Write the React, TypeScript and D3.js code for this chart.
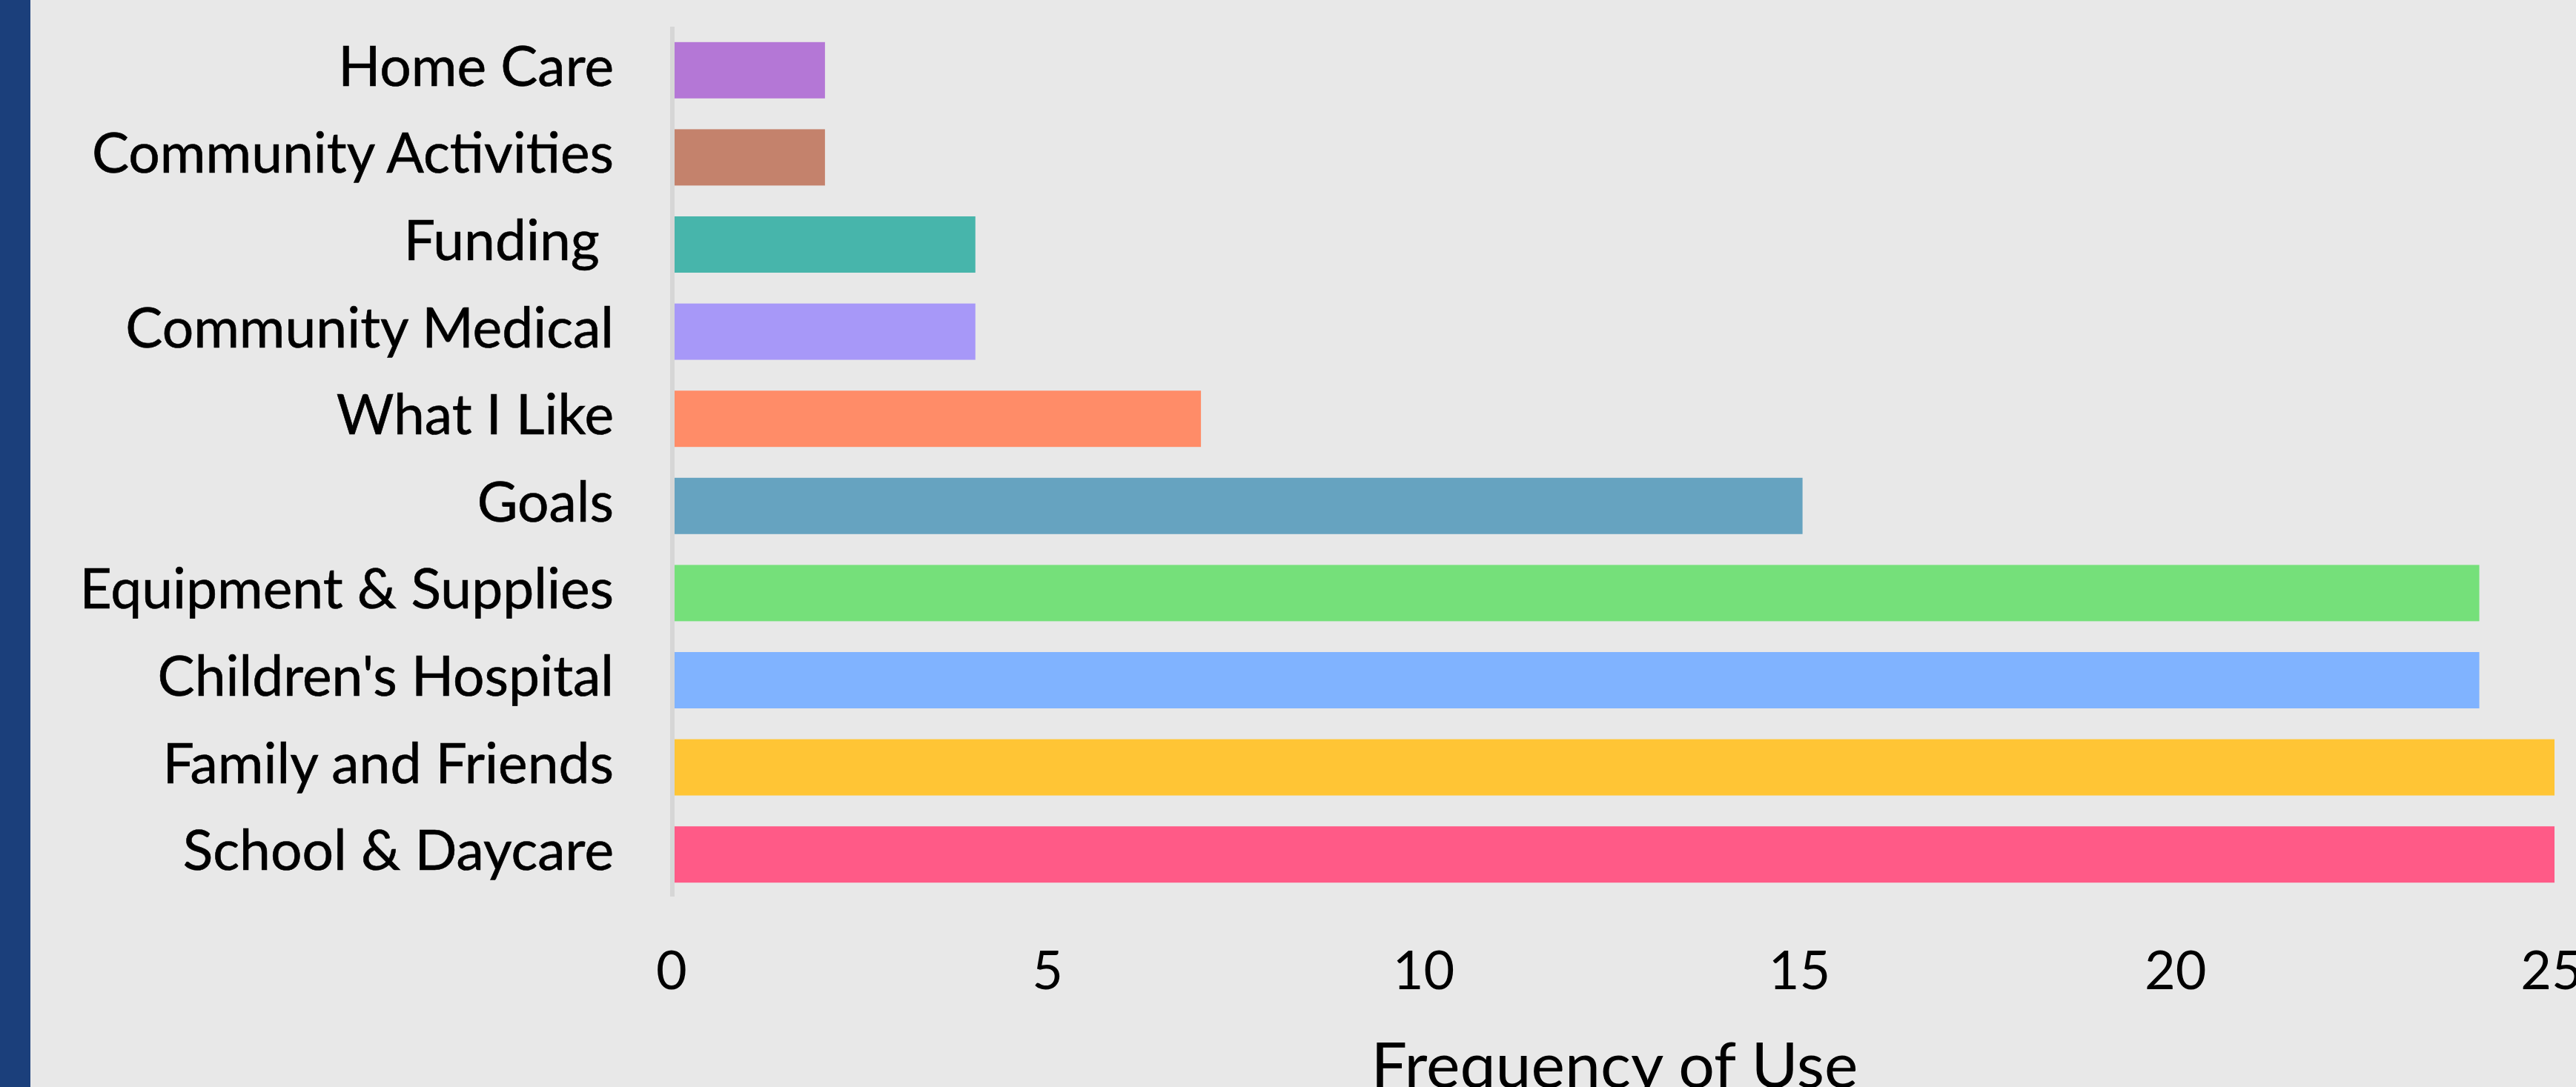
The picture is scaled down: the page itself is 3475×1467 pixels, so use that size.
import React, { useEffect } from "react";
import * as d3 from "d3";

const categories = [
  "Home Care",
  "Community Activities",
  "Funding ",
  "Community Medical",
  "What I Like",
  "Goals",
  "Equipment & Supplies",
  "Children's Hospital",
  "Family and Friends",
  "School & Daycare",
];
const values = [2, 2, 4, 4, 7, 15, 24, 24, 25, 25];
const colors = [
  "#B477D6",
  "#C4826C",
  "#47B5AB",
  "#A798F8",
  "#FF8C68",
  "#66A3C0",
  "#75E07A",
  "#80B3FF",
  "#FFC535",
  "#FF5A87",
];
const xTicks = [0, 5, 10, 15, 20, 25];
const xTitle = "Frequency of Use";

const W = 3475;
const H = 1467;
const FONT = "Lato, 'Open Sans', sans-serif";

export default function App() {
  useEffect(() => {
    document.body.style.margin = "0";
  }, []);

  const x = d3.scaleLinear().domain([0, 25]).range([910, 3446]);
  const y = d3
    .scaleBand<string>()
    .domain(categories)
    .range([36, 1212])
    .paddingInner(0.354)
    .paddingOuter(0.177);

  return (
    <svg width={W} height={H} style={{ display: "block" }}>
      <rect x={0} y={0} width={W} height={H} fill="#E8E8E8" />
      <rect x={0} y={0} width={41} height={H} fill="#1B3F7B" />
      {categories.map((c, i) => (
        <rect
          key={c}
          x={x(0)}
          y={y(c)}
          width={x(values[i]) - x(0)}
          height={y.bandwidth()}
          fill={colors[i]}
        />
      ))}
      <line x1={x(0) - 3} x2={x(0) - 3} y1={36} y2={1210} stroke="#D6D6D6" strokeWidth={6} />
      {categories.map((c) => (
        <text
          key={"l" + c}
          x={828}
          y={(y(c) as number) + y.bandwidth() / 2 + 21}
          textAnchor="end"
          fontFamily={FONT}
          fontSize={75}
          fill="#000"
          stroke="#000"
          strokeWidth={0.6}
          style={{ whiteSpace: "pre" }}
        >
          {c}
        </text>
      ))}
      {xTicks.map((t) => (
        <text
          key={"t" + t}
          x={x(t) - 4}
          y={1335}
          textAnchor="middle"
          fontFamily={FONT}
          fontSize={72}
          fill="#000"
        >
          {t}
        </text>
      ))}
      <text
        x={(x(0) + x(25)) / 2}
        y={1468}
        textAnchor="middle"
        fontFamily={FONT}
        fontSize={86}
        fill="#000"
      >
        {xTitle}
      </text>
    </svg>
  );
}
